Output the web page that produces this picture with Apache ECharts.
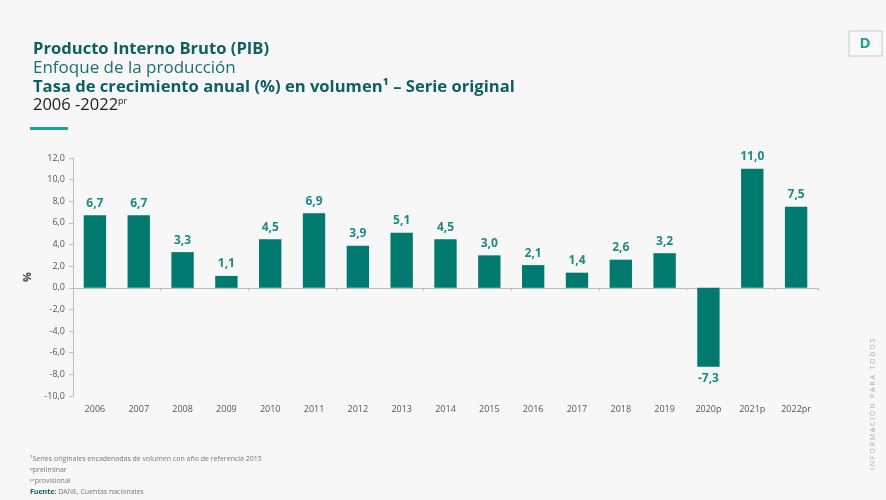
<!DOCTYPE html>
<html>
<head>
<meta charset="utf-8">
<script src="https://cdn.jsdelivr.net/npm/echarts@6/dist/echarts.min.js"></script>
<style>
  html, body { margin: 0; padding: 0; background: #f7f7f7; }
  #pib { width: 886px; height: 500px; }
</style>
</head>
<body>
<div id="pib"></div>
<script>
// años (p = preliminar, pr = provisional)
var anios = ['2006', '2007', '2008', '2009', '2010', '2011', '2012', '2013', '2014',
  '2015', '2016', '2017', '2018', '2019', '2020p', '2021p', '2022pr'];
// tasa de crecimiento anual (%)
var tasas = [6.7, 6.7, 3.3, 1.1, 4.5, 6.9, 3.9, 5.1, 4.5, 3.0, 2.1, 1.4, 2.6, 3.2, -7.3, 11.0, 7.5];
// eje y
var yMin = -10, yMax = 12, yPaso = 2;

var fuente = '"Open Sans", "Noto Sans", sans-serif';
function coma(v) { return v.toFixed(1).replace('.', ','); }

var barras = tasas.map(function (v) {
  return v < 0 ? { value: v, label: { position: 'bottom' } } : v;
});

var pibChart = echarts.init(document.getElementById('pib'));

var option = {
  backgroundColor: '#f7f7f7',
  textStyle: { fontFamily: fuente },
  grid: { left: 73, right: 68, top: 158, bottom: 104 },
  xAxis: [
    {
      type: 'category',
      data: anios,
      axisLine: { onZero: true, lineStyle: { color: '#bcbcbc', width: 1 } },
      axisTick: { show: true, length: 3, lineStyle: { color: '#bcbcbc' } },
      axisLabel: { show: false }
    },
    {
      type: 'category',
      data: anios,
      position: 'bottom',
      axisLine: { show: false, onZero: false },
      axisTick: { show: false },
      axisLabel: { color: '#555', fontSize: 9, margin: 9, fontFamily: fuente }
    }
  ],
  yAxis: {
    type: 'value',
    min: yMin, max: yMax, interval: yPaso,
    name: '%',
    nameLocation: 'middle',
    nameGap: 36,
    nameTextStyle: { color: '#444', fontSize: 11, fontWeight: 'bold' },
    axisLine: { show: true, lineStyle: { color: '#bcbcbc' } },
    axisTick: { show: true, length: 4, lineStyle: { color: '#bcbcbc' } },
    splitLine: { show: false },
    axisLabel: {
      color: '#555', fontSize: 9, margin: 8, fontFamily: fuente,
      formatter: function (v) { return coma(v); }
    }
  },
  series: [{
    type: 'bar',
    xAxisIndex: 0,
    data: barras,
    barWidth: '51%',
    itemStyle: { color: '#00796f' },
    label: {
      show: true,
      position: 'top',
      distance: 6,
      color: '#1b8a84',
      fontSize: 12,
      fontWeight: 'bold',
      fontFamily: fuente,
      formatter: function (p) { return coma(p.value); }
    }
  }],
  graphic: [
    { type: 'text', left: 33, top: 41, style: { text: 'Producto Interno Bruto (PIB)', font: 'bold 16.6px ' + fuente, fill: '#0d5f63' } },
    { type: 'text', left: 33, top: 60, style: { text: 'Enfoque de la producción', font: '17px ' + fuente, fill: '#1c6f70' } },
    { type: 'text', left: 33, top: 79, style: { text: 'Tasa de crecimiento anual (%) en volumen¹ – Serie original', font: 'bold 16.6px ' + fuente, fill: '#0d5f63' } },
    {
      type: 'text', left: 33, top: 97,
      style: {
        text: '2006 -2022{s|pr}',
        font: '16.5px ' + fuente, fill: '#222',
        rich: { s: { fontSize: 9, verticalAlign: 'top', fill: '#222', fontFamily: fuente } }
      }
    },
    { type: 'rect', shape: { x: 30, y: 127, width: 38, height: 3 }, style: { fill: '#1aa3a0' } },
    { type: 'rect', shape: { x: 849, y: 31, width: 33, height: 25 }, style: { fill: '#f9f9f9', stroke: '#c8c8c8', lineWidth: 1 } },
    { type: 'text', x: 865, y: 44, style: { text: 'D', font: 'bold 15px ' + fuente, fill: '#1aa394', align: 'center', verticalAlign: 'middle' } },
    {
      type: 'text', x: 873, y: 470, rotation: Math.PI / 2,
      style: { text: 'I N F O R M A C I Ó N   P A R A   T O D O S', font: '7px ' + fuente, fill: '#a8a8a8', verticalAlign: 'middle' }
    },
    { type: 'text', left: 30, top: 455, style: { text: '¹Series originales encadenadas de volumen con año de referencia 2015', font: '7px ' + fuente, fill: '#777' } },
    { type: 'text', left: 30, top: 466, style: { text: 'ᵖpreliminar', font: '7px ' + fuente, fill: '#777' } },
    { type: 'text', left: 30, top: 477, style: { text: 'ᵖʳprovisional', font: '7px ' + fuente, fill: '#777' } },
    {
      type: 'text', left: 30, top: 488,
      style: {
        text: '{b|Fuente:} DANE, Cuentas nacionales',
        font: '7px ' + fuente, fill: '#777',
        rich: { b: { fontWeight: 'bold', fontSize: 7, fill: '#0d5f63', fontFamily: fuente } }
      }
    }
  ]
};
option && pibChart.setOption(option);
</script>
</body>
</html>
